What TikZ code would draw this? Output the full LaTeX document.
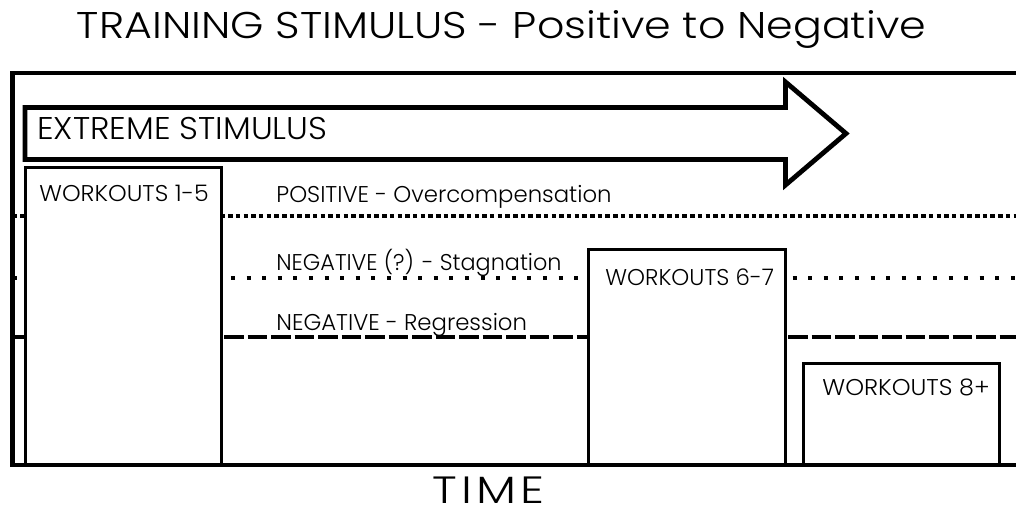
\documentclass[tikz,border=0pt]{standalone}
\usepackage{fontspec}
\setmainfont{Poppins}[UprightFont={* Light}]
\newcommand{\strx}[1]{\addfontfeature{FakeStretch=#1}}
\begin{document}
\begin{tikzpicture}[x=0.5pt,y=-0.5pt,
  framel/.style={line width=2.4pt, line cap=butt, line join=miter},
  posline/.style={line width=2pt, dash pattern=on 2.25pt off 1.6pt},
  stagline/.style={line width=2pt, dash pattern=on 2pt off 5.8pt},
  regline/.style={line width=2pt, dash pattern=on 9.75pt off 2pt},
  wbox/.style={draw, fill=white, line width=1.5pt, outer sep=0pt, inner sep=0pt},
  lbl/.style={font=\fontsize{11.4pt}{13pt}\selectfont, inner sep=0pt, anchor=base west},
]
\useasboundingbox (0,0) rectangle (1016,508);
\node[font=\fontsize{18.6pt}{22pt}\selectfont\strx{1.15}, inner sep=0pt, anchor=base] (title) at (501.5,39) {TRAINING STIMULUS - Positive to Negative};
% level lines
\coordinate (pl) at (12.5,216); \coordinate (pr) at (1016,216);
\coordinate (sl) at (12.5,278); \coordinate (sr) at (1016,278);
\coordinate (rl) at (12.5,337); \coordinate (rr) at (1016,337);
\draw[posline] (pl) -- (pr);
\draw[stagline] (sl) -- (sr);
\draw[regline] (rl) -- (rr);
% workout boxes
\node[wbox, anchor=south west, minimum width=98pt, minimum height=148.75pt] (b1) at (25,465) {};
\node[wbox, anchor=south west, minimum width=98.75pt, minimum height=107.75pt] (b2) at (588,465) {};
\node[wbox, anchor=south west, minimum width=98.25pt, minimum height=51pt] (b3) at (803,465) {};
% frame
\coordinate (ftr) at (1016,73); \coordinate (ftl) at (12.5,73);
\coordinate (fbl) at (12.5,465); \coordinate (fbr) at (1016,465);
\draw[framel] (ftr) -- (ftl) -- (fbl) -- (fbr);
% arrow
\draw[framel, fill=white] (25,107.5) -- (785.5,107.5) -- (785.5,82) -- (846,133.5) -- (785.5,185) -- (785.5,159.5) -- (25,159.5) -- cycle;
\node[font=\fontsize{15.7pt}{18pt}\selectfont\strx{1.05}, inner sep=0pt, anchor=base west] (ext) at (37,140) {EXTREME STIMULUS};
% texts
\node[lbl, font=\fontsize{11.4pt}{13pt}\selectfont\strx{1.04}] (t1) at (39,201) {WORKOUTS 1-5};
\node[lbl] (t2) at (605,285) {WORKOUTS 6-7};
\node[lbl, font=\fontsize{11.4pt}{13pt}\selectfont\strx{1.05}] (t3) at (822,395) {WORKOUTS 8+};
\node[lbl] (lp) at (276,202) {POSITIVE - Overcompensation};
\node[lbl, font=\fontsize{11.4pt}{13pt}\selectfont\strx{0.98}] (ls) at (276,270) {NEGATIVE (?) - Stagnation};
\node[lbl] (lr) at (276,330) {NEGATIVE - Regression};
\node[font=\fontsize{19pt}{22pt}\selectfont\addfontfeature{FakeStretch=1.25,LetterSpace=11}, inner sep=0pt, anchor=base west] (time) at (432,503) {TIME};
\end{tikzpicture}
\end{document}
